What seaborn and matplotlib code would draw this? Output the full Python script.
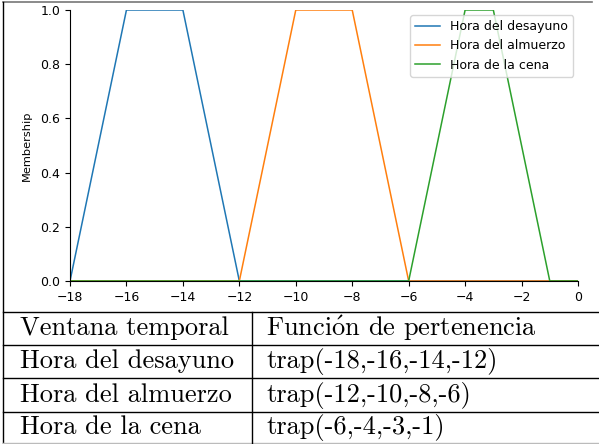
import matplotlib
matplotlib.use("Agg")
import matplotlib.pyplot as plt
from matplotlib.lines import Line2D
import seaborn as sns
import pandas as pd

plt.rcParams["mathtext.fontset"] = "cm"

# ---- data ----
series_names = ["Hora del desayuno", "Hora del almuerzo", "Hora de la cena"]
desayuno_x = [-18, -16, -14, -12, 0]
desayuno_y = [0, 1, 1, 0, 0]
almuerzo_x = [-18, -12, -10, -8, -6, 0]
almuerzo_y = [0, 0, 1, 1, 0, 0]
cena_x = [-18, -6, -4, -3, -1, 0]
cena_y = [0, 0, 1, 1, 0, 0]
x_ticks = [-18, -16, -14, -12, -10, -8, -6, -4, -2, 0]
y_ticks = [0.0, 0.2, 0.4, 0.6, 0.8, 1.0]
table_header = ["Ventana temporal", r"Funci$\mathrm{\acute{o}}$n de pertenencia"]
table_col1 = ["Hora del desayuno", "Hora del almuerzo", "Hora de la cena"]
table_col2 = ["trap(-18,-16,-14,-12)", "trap(-12,-10,-8,-6)", "trap(-6,-4,-3,-1)"]

colors = ["#1f77b4", "#ff7f0e", "#2ca02c"]

fig = plt.figure(figsize=(5.99, 4.44), dpi=100)
ax = fig.add_axes([70/599, 1-281/444, (578-70)/599, (281-10)/444])

xs = [desayuno_x, almuerzo_x, cena_x]
ys = [desayuno_y, almuerzo_y, cena_y]
for name, x, y, c in zip(series_names, xs, ys, colors):
    df = pd.DataFrame({"x": x, "y": y})
    sns.lineplot(data=df, x="x", y="y", ax=ax, color=c, label=name, sort=False,
                 linewidth=1.1, estimator=None)

ax.set_xlim(-18, 0)
ax.set_ylim(0, 1.0)
ax.set_xticks(x_ticks)
ax.set_yticks(y_ticks)
ax.tick_params(labelsize=9)
ax.set_xlabel("")
ax.set_ylabel("Membership", fontsize=8.2)
ax.yaxis.set_label_coords(-0.075, 0.5)
ax.spines["top"].set_visible(False)
ax.spines["right"].set_visible(False)
ax.legend(loc="upper right", fontsize=9, borderaxespad=0.4)

# ---- table frame ----
def hline(y, x0=3, x1=599, color="black", lw=1.0):
    fig.add_artist(Line2D([x0/599, x1/599], [1-y/444, 1-y/444], color=color, lw=lw))

def vline(x, y0, y1, color="black", lw=1.0):
    fig.add_artist(Line2D([x/599, x/599], [1-y0/444, 1-y1/444], color=color, lw=lw))

hline(2.5, 3, 592, color="#777777", lw=1.2)
vline(3, 2, 444)
for yy in [312, 345, 378, 412]:
    hline(yy)
hline(443, color="#bbbbbb")
vline(252, 312, 444)

rows_y = [328, 361, 395, 427]
col1 = [table_header[0]] + table_col1
col2 = [table_header[1]] + table_col2
for yy, a, b in zip(rows_y, col1, col2):
    fig.text(20/599, 1-yy/444, a, family="cmr10", fontsize=19, va="center", ha="left")
    fig.text(266/599, 1-yy/444, b, family="cmr10", fontsize=19, va="center", ha="left")

fig.savefig("out.png", dpi=100)
